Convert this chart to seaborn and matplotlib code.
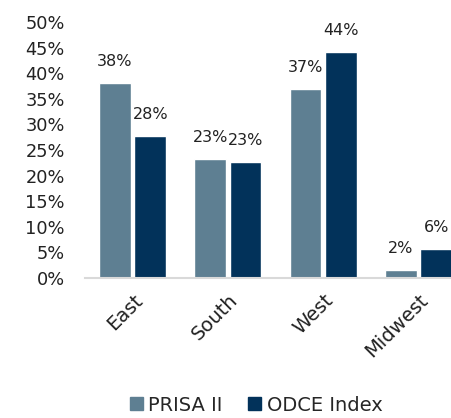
import matplotlib
matplotlib.use("Agg")
import matplotlib.pyplot as plt
import seaborn as sns
import pandas as pd

regions = ["East", "South", "West", "Midwest"]
prisa = [38.1, 23.3, 37.0, 1.6]
odce = [27.7, 22.7, 44.1, 5.6]
series = ["PRISA II", "ODCE Index"]
palette = {"PRISA II": "#5e7f92", "ODCE Index": "#02325a"}

df = pd.DataFrame({
    "region": regions * 2,
    "value": prisa + odce,
    "series": [series[0]] * len(regions) + [series[1]] * len(regions),
})

sns.set_style("white")
plt.rcParams["font.family"] = ["DejaVu Sans"]

fig = plt.figure(figsize=(4.51, 4.18), dpi=100)
ax = fig.add_axes([0.1885, 0.335, 0.845, 0.612])

sns.barplot(data=df, x="region", y="value", hue="series", palette=palette,
            width=0.74, gap=0.1, ax=ax, legend=False, saturation=1)

for cont in ax.containers:
    ax.bar_label(cont, labels=[f"{b.get_height():.0f}%" for b in cont],
                 padding=10, fontsize=11.5, color="#222222")

ax.set_xlim(-0.5, 3.5)
ax.set_ylim(0, 50)
ax.set_yticks(range(0, 51, 5))
ax.set_yticklabels([f"{t}%" for t in range(0, 51, 5)], fontsize=12.8, color="#222222")
ax.tick_params(axis="y", length=0, pad=14.5)
ax.tick_params(axis="x", length=0, pad=9)
ax.set_xticks(range(len(regions)))
ax.set_xticklabels(regions, rotation=45, ha="right", rotation_mode="anchor",
                   fontsize=14, color="#222222")
ax.set_xlabel("")
ax.set_ylabel("")

for s in ["top", "right", "left"]:
    ax.spines[s].set_visible(False)
ax.spines["bottom"].set_color("#d9d9d9")
ax.spines["bottom"].set_linewidth(1.5)

handles = [plt.Rectangle((0, 0), 1, 1, color=palette[s]) for s in series]
fig.legend(handles, series, loc="center", bbox_to_anchor=(0.568, 0.031),
           ncol=2, frameon=False, fontsize=14, handlelength=0.65, handleheight=0.65,
           handletextpad=0.3, columnspacing=1.3)

fig.savefig("out.png", dpi=100)
